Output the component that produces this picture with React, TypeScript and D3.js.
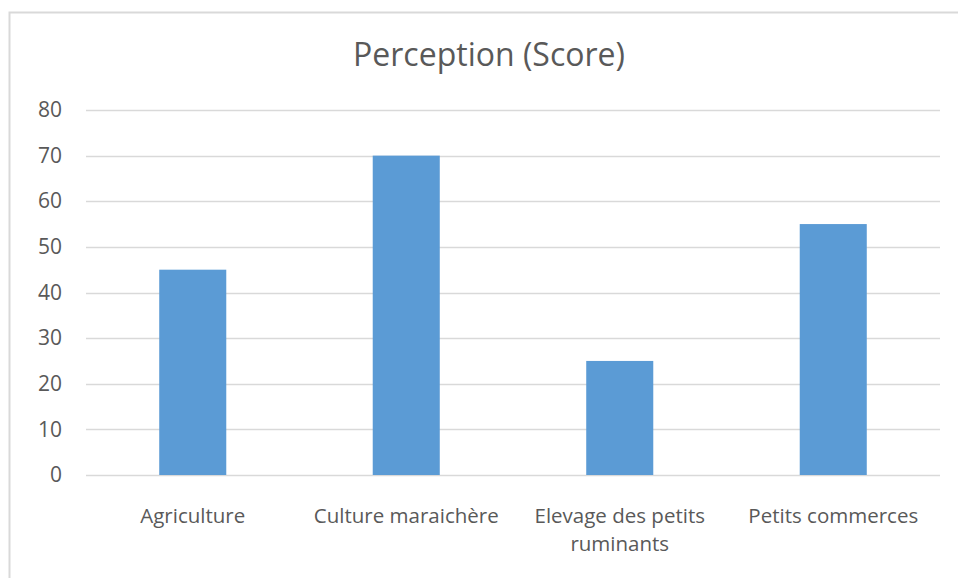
import React, { useRef, useEffect } from "react";
import * as d3 from "d3";

const categories = ["Agriculture", "Culture maraichère", "Elevage des petits ruminants", "Petits commerces"];
const scores = [45, 70, 25, 55];
const yTicks = [0, 10, 20, 30, 40, 50, 60, 70, 80];
const chartTitle = "Perception (Score)";

const W = 958;
const H = 578;

const App = () => {
  const svgRef = useRef<SVGSVGElement>(null);

  useEffect(() => {
    document.body.style.margin = "0";
    const svg = d3.select(svgRef.current);
    svg.selectAll("*").remove();

    const margin = { top: 110, right: 18, bottom: 103, left: 86 };
    const fontFamily = "'Open Sans', sans-serif";

    // outer chart border (right and bottom edges fall outside the picture)
    svg
      .append("rect")
      .attr("x", 9.5)
      .attr("y", 12.5)
      .attr("width", 1000)
      .attr("height", 1000)
      .attr("fill", "white")
      .attr("stroke", "#d9d9d9")
      .attr("stroke-width", 2);

    const x = d3
      .scaleBand()
      .domain(categories)
      .range([margin.left, W - margin.right])
      .paddingInner(0.686)
      .paddingOuter(0.343);

    const y = d3
      .scaleLinear()
      .domain([0, 80])
      .range([H - margin.bottom, margin.top]);

    // grid lines
    svg
      .append("g")
      .selectAll("line")
      .data(yTicks)
      .enter()
      .append("line")
      .attr("x1", margin.left)
      .attr("x2", W - margin.right)
      .attr("y1", (d) => Math.round(y(d)) + 0.5)
      .attr("y2", (d) => Math.round(y(d)) + 0.5)
      .attr("stroke", "#d9d9d9")
      .attr("stroke-width", 1.3);

    // y axis labels
    const yAxis = svg
      .append("g")
      .attr("transform", `translate(${margin.left - 24},0)`)
      .call(d3.axisLeft(y).tickValues(yTicks).tickSize(0).tickPadding(0));
    yAxis.select(".domain").remove();
    yAxis
      .selectAll("text")
      .style("fill", "#595959")
      .style("font-family", fontFamily)
      .style("font-size", "21px");

    // bars
    svg
      .append("g")
      .selectAll("rect")
      .data(scores)
      .enter()
      .append("rect")
      .attr("x", (d, i) => x(categories[i]))
      .attr("y", (d) => y(d))
      .attr("width", x.bandwidth())
      .attr("height", (d) => y(0) - y(d))
      .attr("fill", "#5b9bd5");

    // x axis labels, wrapped like Excel does
    const labelY = 48;
    const xAxis = svg
      .append("g")
      .attr("transform", `translate(0,${H - margin.bottom})`)
      .call(d3.axisBottom(x).tickSize(0).tickPadding(0));
    xAxis.select(".domain").remove();
    xAxis
      .selectAll("text")
      .style("fill", "#595959")
      .style("font-family", fontFamily)
      .style("font-size", "20.5px")
      .attr("y", labelY)
      .attr("dy", 0)
      .each(function () {
        const text = d3.select(this);
        const words = text.text().split(/\s+/);
        text.text(null);
        let line: string[] = [];
        let lineNo = 0;
        let tspan = text.append("tspan").attr("x", 0).attr("y", labelY);
        words.forEach((w) => {
          line.push(w);
          tspan.text(line.join(" "));
          if ((tspan.node() as SVGTSpanElement).getComputedTextLength() > 200 && line.length > 1) {
            line.pop();
            tspan.text(line.join(" "));
            line = [w];
            lineNo++;
            tspan = text
              .append("tspan")
              .attr("x", 0)
              .attr("y", labelY + lineNo * 28)
              .text(w);
          }
        });
      });

    // title
    svg
      .append("text")
      .attr("x", 489)
      .attr("y", 66)
      .attr("text-anchor", "middle")
      .style("fill", "#595959")
      .style("font-family", fontFamily)
      .style("font-size", "32px")
      .text(chartTitle);
  }, []);

  return <svg ref={svgRef} width={W} height={H} style={{ display: "block" }}></svg>;
};

export default App;
